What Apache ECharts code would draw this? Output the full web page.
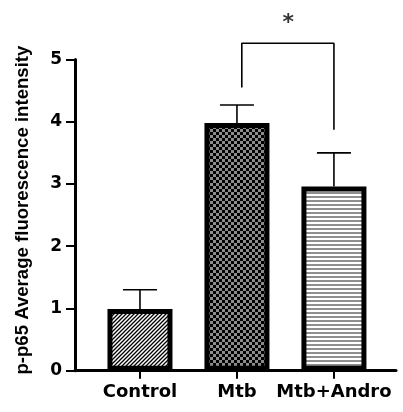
<!DOCTYPE html>
<html>
<head>
    <meta charset="utf-8" />
    <title>p-p65</title>
    <script src="https://cdn.jsdelivr.net/npm/echarts@6/dist/echarts.min.js"></script>
    <style type="text/css">
        * { margin: 0; padding: 0; }
        html, body { width: 100%; height: 100%; background: #fff; }
        #chart { width: 403px; height: 412px; }
    </style>
</head>
<body>
    <div id="chart"></div>
</body>
</html>
<script type="text/javascript">
    // data
    var categories = ['Control', 'Mtb', 'Mtb+Andro'];
    var catPos = [0, 1, 2];
    var means = [0.99, 3.98, 2.96];
    var upper = [1.30, 4.27, 3.50];
    var yTicks = [0, 1, 2, 3, 4, 5];
    // significance bracket between Mtb and Mtb+Andro
    var bracketX = [1.05, 1.05, 2.0, 2.0];
    var bracketY = [4.55, 5.26, 5.26, 3.87];
    var starPos = [1.53, 5.58];

    // fill patterns
    function tile(w, h, draw) {
        var c = document.createElement('canvas');
        c.width = w; c.height = h;
        draw(c.getContext('2d'));
        return c;
    }
    var diag = tile(4, 4, function (ctx) {
        ctx.fillStyle = '#fff'; ctx.fillRect(0, 0, 4, 4);
        ctx.strokeStyle = '#000'; ctx.lineWidth = 1.3;
        ctx.beginPath();
        ctx.moveTo(0, 4); ctx.lineTo(4, 0);
        ctx.moveTo(-1, 1); ctx.lineTo(1, -1);
        ctx.moveTo(3, 5); ctx.lineTo(5, 3);
        ctx.stroke();
    });
    var check = tile(6, 6, function (ctx) {
        ctx.fillStyle = '#8c8c8c'; ctx.fillRect(0, 0, 6, 6);
        ctx.fillStyle = '#000';
        ctx.fillRect(0, 0, 3, 3); ctx.fillRect(3, 3, 3, 3);
    });
    var stripes = tile(4, 4, function (ctx) {
        ctx.fillStyle = '#fff'; ctx.fillRect(0, 0, 4, 4);
        ctx.fillStyle = '#8f8f8f'; ctx.fillRect(0, 0, 4, 2);
    });
    var patterns = [diag, check, stripes];

    var barData = [];
    var errData = [];
    for (var i = 0; i < categories.length; i++) {
        barData.push({
            value: [catPos[i], means[i]],
            itemStyle: { color: { image: patterns[i], repeat: 'repeat' } }
        });
        errData.push([catPos[i], means[i], upper[i]]);
    }
    var bracketData = bracketX.map(function (x, k) { return [x, bracketY[k]]; });

    var myChart = echarts.init(document.getElementById('chart'));
    var option = {
        backgroundColor: '#fff',
        animation: false,
        grid: { left: 75, right: 7, top: 59.5, bottom: 41.3, outerBoundsMode: 'none' },
        xAxis: {
            type: 'value',
            min: -0.67,
            max: 2.64,
            splitLine: { show: false },
            axisLine: { lineStyle: { color: '#000', width: 3 } },
            axisTick: { customValues: catPos, length: 8, lineStyle: { color: '#000', width: 2 } },
            axisLabel: {
                customValues: catPos,
                formatter: function (v) { return categories[Math.round(v)]; },
                margin: 13,
                color: '#000',
                fontFamily: 'DejaVu Sans',
                fontWeight: 'bold',
                fontSize: 18
            }
        },
        yAxis: {
            type: 'value',
            min: yTicks[0],
            max: yTicks[yTicks.length - 1],
            interval: 1,
            splitLine: { show: false },
            axisLine: { show: true, onZero: false, lineStyle: { color: '#000', width: 3 } },
            axisTick: { show: true, length: 9, lineStyle: { color: '#000', width: 2 } },
            axisLabel: {
                margin: 13,
                color: '#000',
                fontFamily: 'DejaVu Sans',
                fontWeight: 'bold',
                fontSize: 17
            },
            name: 'p-p65 Average fluorescence intensity',
            nameLocation: 'middle',
            nameGap: 43,
            nameTextStyle: {
                color: '#000',
                fontFamily: 'Liberation Sans',
                fontWeight: 'bold',
                fontSize: 18.6,
                padding: [0, 0, 0, 10]
            }
        },
        series: [
            {
                type: 'bar',
                barWidth: 65,
                data: barData,
                itemStyle: { borderColor: '#000', borderWidth: 5 }
            },
            {
                type: 'custom',
                data: errData,
                renderItem: function (params, api) {
                    var p0 = api.coord([api.value(0), api.value(1)]);
                    var p1 = api.coord([api.value(0), api.value(2)]);
                    var half = 17;
                    var st = { stroke: '#000', lineWidth: 1.6 };
                    return {
                        type: 'group',
                        children: [
                            { type: 'line', shape: { x1: p0[0], y1: p0[1], x2: p1[0], y2: p1[1] }, style: st },
                            { type: 'line', shape: { x1: p1[0] - half, y1: p1[1], x2: p1[0] + half, y2: p1[1] }, style: st }
                        ]
                    };
                }
            },
            {
                type: 'line',
                data: bracketData,
                symbol: 'none',
                clip: false,
                lineStyle: { color: '#000', width: 1.6 }
            },
            {
                type: 'scatter',
                data: [starPos],
                symbolSize: 1,
                clip: false,
                itemStyle: { color: 'rgba(0,0,0,0)' },
                label: {
                    show: true,
                    position: 'inside',
                    formatter: '*',
                    color: '#000',
                    fontFamily: 'DejaVu Sans',
                    fontWeight: 'bold',
                    fontSize: 22
                }
            }
        ]
    };
    myChart.setOption(option);
</script>
